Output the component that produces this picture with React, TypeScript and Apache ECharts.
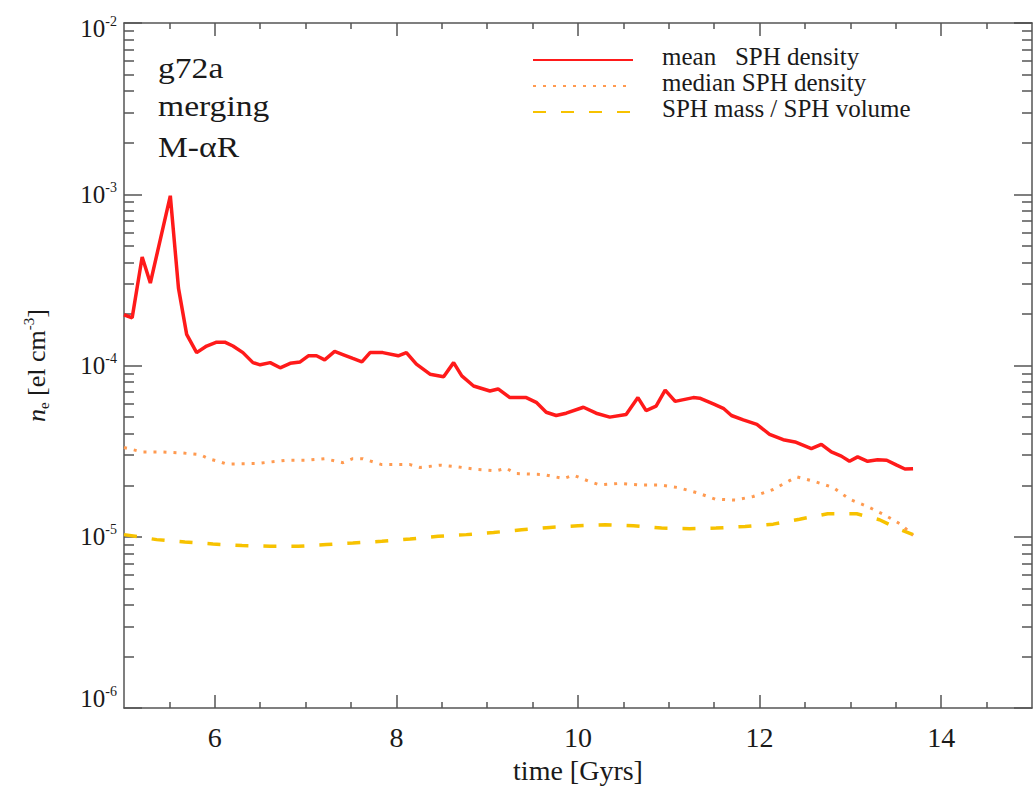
import React, { useEffect, useRef } from "react";
import * as echarts from "echarts";

// ---- data ----
const meanTime = [
  5.0, 5.09, 5.2, 5.29, 5.51, 5.6, 5.69, 5.8, 5.91, 6.02,
  6.11, 6.2, 6.31, 6.42, 6.5, 6.61, 6.72, 6.83, 6.94, 7.03,
  7.12, 7.21, 7.32, 7.41, 7.52, 7.62, 7.71, 7.85, 8.02, 8.11,
  8.22, 8.37, 8.52, 8.63, 8.72, 8.85, 9.03, 9.12, 9.25, 9.43,
  9.54, 9.65, 9.76, 9.87, 10.06, 10.2, 10.35, 10.53, 10.66, 10.75,
  10.86, 10.96, 11.07, 11.27, 11.34, 11.49, 11.6, 11.69, 11.82, 11.97,
  12.11, 12.26, 12.39, 12.57, 12.68, 12.79, 12.9, 12.99, 13.08, 13.19,
  13.3, 13.4, 13.51, 13.6, 13.69,
];
const meanDensity = [
  1.98e-4, 1.9e-4, 4.3e-4, 3.03e-4, 9.8e-4, 2.83e-4, 1.52e-4, 1.19e-4, 1.3e-4, 1.37e-4,
  1.37e-4, 1.3e-4, 1.19e-4, 1.04e-4, 1.01e-4, 1.04e-4, 9.7e-5, 1.03e-4, 1.05e-4, 1.14e-4,
  1.14e-4, 1.08e-4, 1.21e-4, 1.16e-4, 1.1e-4, 1.05e-4, 1.19e-4, 1.19e-4, 1.14e-4, 1.19e-4,
  1.02e-4, 8.9e-5, 8.6e-5, 1.04e-4, 8.7e-5, 7.6e-5, 7.1e-5, 7.3e-5, 6.5e-5, 6.5e-5,
  6.1e-5, 5.34e-5, 5.11e-5, 5.27e-5, 5.71e-5, 5.27e-5, 5.0e-5, 5.18e-5, 6.5e-5, 5.46e-5,
  5.79e-5, 7.19e-5, 6.18e-5, 6.5e-5, 6.45e-5, 5.97e-5, 5.63e-5, 5.11e-5, 4.82e-5, 4.53e-5,
  3.97e-5, 3.69e-5, 3.58e-5, 3.27e-5, 3.47e-5, 3.13e-5, 2.96e-5, 2.76e-5, 2.93e-5, 2.76e-5,
  2.82e-5, 2.8e-5, 2.62e-5, 2.49e-5, 2.5e-5,
];

const medianTime = [
  5.0, 5.2, 5.42, 5.63, 5.84, 5.93, 6.04, 6.13, 6.46, 6.79,
  7.01, 7.21, 7.41, 7.52, 7.63, 7.84, 8.15, 8.26, 8.48, 8.68,
  8.9, 9.1, 9.21, 9.32, 9.62, 9.84, 9.95, 10.13, 10.24, 10.46,
  10.68, 10.9, 11.1, 11.31, 11.51, 11.73, 11.93, 12.15, 12.33, 12.41,
  12.61, 12.81, 12.99, 13.19, 13.38, 13.56, 13.69,
];
const medianDensity = [
  3.32e-5, 3.13e-5, 3.13e-5, 3.09e-5, 3.02e-5, 2.86e-5, 2.76e-5, 2.66e-5, 2.68e-5, 2.8e-5,
  2.8e-5, 2.86e-5, 2.71e-5, 2.86e-5, 2.86e-5, 2.64e-5, 2.64e-5, 2.54e-5, 2.62e-5, 2.56e-5,
  2.47e-5, 2.43e-5, 2.51e-5, 2.34e-5, 2.31e-5, 2.19e-5, 2.29e-5, 2.1e-5, 2.01e-5, 2.05e-5,
  2.01e-5, 2.01e-5, 1.94e-5, 1.81e-5, 1.66e-5, 1.64e-5, 1.72e-5, 1.89e-5, 2.13e-5, 2.24e-5,
  2.1e-5, 1.94e-5, 1.66e-5, 1.5e-5, 1.34e-5, 1.18e-5, 1.02e-5,
];

const massTime = [
  5.0, 5.36, 5.67, 5.98, 6.3, 6.61, 6.92, 7.23, 7.52, 7.84,
  8.15, 8.46, 8.77, 9.07, 9.38, 9.69, 10.0, 10.3, 10.61, 10.92,
  11.23, 11.52, 11.84, 12.15, 12.44, 12.75, 13.07, 13.32, 13.51, 13.69,
];
const massDensity = [
  1.03e-5, 9.63e-6, 9.33e-6, 9.08e-6, 8.89e-6, 8.81e-6, 8.81e-6, 9.01e-6, 9.2e-6, 9.42e-6,
  9.71e-6, 1.007e-5, 1.03e-5, 1.06e-5, 1.1e-5, 1.135e-5, 1.16e-5, 1.177e-5, 1.16e-5, 1.125e-5,
  1.116e-5, 1.125e-5, 1.15e-5, 1.186e-5, 1.268e-5, 1.363e-5, 1.363e-5, 1.258e-5, 1.125e-5, 1.03e-5,
];

const seriesNames = ["mean   SPH density", "median SPH density", "SPH mass / SPH volume"];
const annotationLines = ["g72a", "merging", "M-\u03b1R"];

const xMajorTicks = [6, 8, 10, 12, 14];
const xMinorTicks = [5.5, 6.5, 7, 7.5, 8.5, 9, 9.5, 10.5, 11, 11.5, 12.5, 13, 13.5, 14.5];
const yDecades = [-6, -5, -4, -3];
const yMinorMultipliers = [2, 3, 4, 5, 6, 7, 8, 9];

const FONT = "Liberation Serif, Times New Roman, serif";
const AXIS_COLOR = "#555";
const TEXT_COLOR = "#1a1a1a";

function pairs(xs: number[], ys: number[]) {
  return xs.map((x, i) => [x, ys[i]]);
}

export default function App() {
  const ref = useRef<HTMLDivElement>(null);

  useEffect(() => {
    const chart = echarts.init(ref.current!, null, { renderer: "svg" });
    const yMinorLog: number[] = [];
    yDecades.forEach((d) => yMinorMultipliers.forEach((m) => yMinorLog.push(d + Math.log10(m))));

    const lineStyleAxis = { color: AXIS_COLOR, width: 1.5 };
    const tickStyle = { color: AXIS_COLOR, width: 1.5 };

    const xBase = { type: "value", min: 5, max: 15, splitLine: { show: false } };
    const overlayTickAxis = (position: string, values: number[], length: number, extra: any) => ({
      ...extra,
      position,
      axisLine: { show: false },
      axisTick: { show: true, inside: true, length, customValues: values, lineStyle: tickStyle },
      axisLabel: { show: false },
      splitLine: { show: false },
    });

    const lbl = (size: number, padding: number[]) => ({
      fontFamily: FONT,
      fontSize: size,
      color: TEXT_COLOR,
      padding,
    });

    chart.setOption({
      animation: false,
      backgroundColor: "#ffffff",
      grid: { left: 124, right: 1, top: 23, bottom: 76, containLabel: false },
      legend: {
        orient: "vertical",
        left: 527,
        top: 38,
        itemWidth: 100,
        itemHeight: 14,
        itemGap: -8,
        data: seriesNames,
        itemStyle: { opacity: 0 },
        formatter: (name: string) => "{g| }" + name,
        textStyle: {
          fontFamily: FONT,
          fontSize: 25,
          lineHeight: 26,
          color: TEXT_COLOR,
          padding: [0, 0, 8, 0],
          rich: { g: { width: 24, lineHeight: 26 } },
        },
        selectedMode: false,
      },
      graphic: annotationLines.map((t, i) => ({
        type: "text",
        x: 158,
        y: [68, 106, 147][i],
        scaleX: 1.12,
        style: {
          text: t,
          fontFamily: FONT,
          fontSize: 30,
          fill: TEXT_COLOR,
          textAlign: "left",
          textVerticalAlign: "middle",
          verticalAlign: "middle",
        },
      })),
      xAxis: [
        {
          ...xBase,
          position: "bottom",
          name: "time [Gyrs]",
          nameLocation: "middle",
          nameGap: 45,
          nameTextStyle: { fontFamily: FONT, fontSize: 28, color: TEXT_COLOR },
          axisLine: { show: true, onZero: false, lineStyle: lineStyleAxis },
          axisTick: { show: true, inside: true, length: 13, customValues: xMajorTicks, lineStyle: tickStyle },
          axisLabel: {
            customValues: xMajorTicks,
            margin: 15,
            fontFamily: FONT,
            fontSize: 28,
            color: TEXT_COLOR,
          },
        },
        overlayTickAxis("bottom", xMinorTicks, 6, xBase),
        {
          ...xBase,
          position: "top",
          axisLine: { show: true, onZero: false, lineStyle: lineStyleAxis },
          axisTick: { show: true, inside: true, length: 13, customValues: xMajorTicks, lineStyle: tickStyle },
          axisLabel: { show: false },
        },
        overlayTickAxis("top", xMinorTicks, 6, xBase),
      ],
      yAxis: [
        {
          type: "log",
          logBase: 10,
          min: 1e-6,
          max: 1e-2,
          position: "left",
          name: "{i|n}{s|e} [el cm{p|-3}]",
          nameLocation: "middle",
          nameRotate: 90,
          nameGap: 72,
          nameTextStyle: {
            fontFamily: FONT,
            fontSize: 26,
            color: TEXT_COLOR,
            rich: {
              i: { fontFamily: FONT, fontSize: 26, fontStyle: "italic", color: TEXT_COLOR },
              s: { fontFamily: FONT, fontSize: 15, color: TEXT_COLOR, padding: [14, 0, 0, 0] },
              p: { fontFamily: FONT, fontSize: 15, color: TEXT_COLOR, padding: [0, 0, 16, 0] },
            },
          },
          axisLine: { show: true, onZero: false, lineStyle: lineStyleAxis },
          axisTick: { show: true, inside: true, length: 18, lineStyle: tickStyle },
          axisLabel: {
            margin: 7,
            fontFamily: FONT,
            fontSize: 25,
            color: TEXT_COLOR,
            formatter: (v: number) => {
              const e = Math.round(Math.log10(v));
              if (e === -2) return "{t|10}{tp|" + e + "}";
              if (e === -6) return "{b|10}{bp|" + e + "}";
              return "{n|10}{p|" + e + "}";
            },
            rich: {
              n: lbl(25, [0, 0, 0, 0]),
              p: lbl(14, [0, 0, 14, 0]),
              t: lbl(25, [10, 0, 0, 0]),
              tp: lbl(14, [0, 0, 4, 0]),
              b: lbl(25, [0, 0, 20, 0]),
              bp: lbl(14, [0, 0, 34, 0]),
            },
          },
          splitLine: { show: false },
        },
        {
          type: "log",
          logBase: 10,
          min: 1e-6,
          max: 1e-2,
          position: "right",
          axisLine: { show: true, onZero: false, lineStyle: lineStyleAxis },
          axisTick: { show: true, inside: true, length: 18, lineStyle: tickStyle },
          axisLabel: { show: false },
          splitLine: { show: false },
        },
        overlayTickAxis("left", yMinorLog, 10, { type: "value", min: -6, max: -2 }),
        overlayTickAxis("right", yMinorLog, 10, { type: "value", min: -6, max: -2 }),
      ],
      series: [
        {
          name: seriesNames[0],
          type: "line",
          data: pairs(meanTime, meanDensity),
          symbol: "none",
          lineStyle: { color: "#ff1a1a", width: 3.5 },
          itemStyle: { color: "#ff1a1a" },
          z: 4,
        },
        {
          name: seriesNames[1],
          type: "line",
          data: pairs(medianTime, medianDensity),
          symbol: "none",
          lineStyle: { color: "#ff9a50", width: 3, type: [3, 7] },
          itemStyle: { color: "#ff9a50" },
          z: 3,
        },
        {
          name: seriesNames[2],
          type: "line",
          data: pairs(massTime, massDensity),
          symbol: "none",
          lineStyle: { color: "#f7c200", width: 3.5, type: [13, 15] },
          itemStyle: { color: "#f7c200" },
          z: 2,
        },
      ],
    });
    return () => chart.dispose();
  }, []);

  return (
    <div
      ref={ref}
      style={{ position: "absolute", left: 0, top: 0, width: 1033, height: 789, background: "#fff" }}
    />
  );
}
